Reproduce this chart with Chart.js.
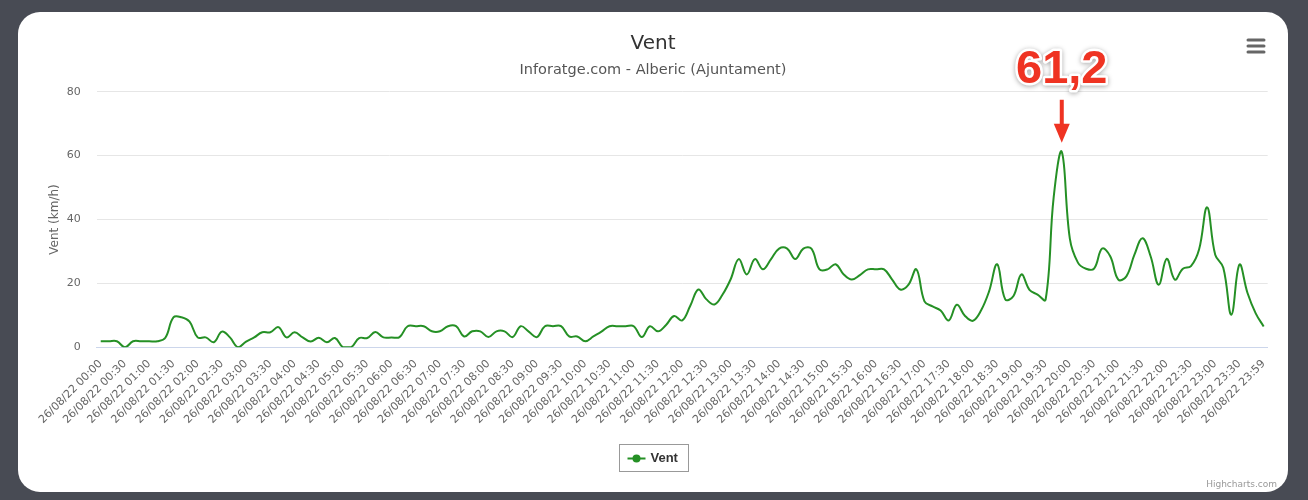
<!DOCTYPE html>
<html>
<head>
<meta charset="utf-8">
<title>Vent</title>
<script src="https://cdn.jsdelivr.net/npm/chart.js@4.4.1/dist/chart.umd.min.js"></script>
<style>
  html, body { margin: 0; padding: 0; }
  body { width: 1308px; height: 500px; background: #484b54; position: relative; overflow: hidden; }
  #card { position: absolute; left: 18px; top: 12px; width: 1270px; height: 480px; background: #fff; border-radius: 22px; overflow: hidden; }
</style>
</head>
<body>
<div id="card"><canvas id="vent-chart" width="1270" height="480"></canvas></div>
<script>
// 10-minute readings, Alberic (Ajuntament), 26/08/22
const datePrefix = '26/08/22 ';
const times = [
  '00:00','00:10','00:20','00:30','00:40','00:50',
  '01:00','01:10','01:20','01:30','01:40','01:50',
  '02:00','02:10','02:20','02:30','02:40','02:50',
  '03:00','03:10','03:20','03:30','03:40','03:50',
  '04:00','04:10','04:20','04:30','04:40','04:50',
  '05:00','05:10','05:20','05:30','05:40','05:50',
  '06:00','06:10','06:20','06:30','06:40','06:50',
  '07:00','07:10','07:20','07:30','07:40','07:50',
  '08:00','08:10','08:20','08:30','08:40','08:50',
  '09:00','09:10','09:20','09:30','09:40','09:50',
  '10:00','10:10','10:20','10:30','10:40','10:50',
  '11:00','11:10','11:20','11:30','11:40','11:50',
  '12:00','12:10','12:20','12:30','12:40','12:50',
  '13:00','13:10','13:20','13:30','13:40','13:50',
  '14:00','14:10','14:20','14:30','14:40','14:50',
  '15:00','15:10','15:20','15:30','15:40','15:50',
  '16:00','16:10','16:20','16:30','16:40','16:50',
  '17:00','17:10','17:20','17:30','17:40','17:50',
  '18:00','18:10','18:20','18:30','18:40','18:50',
  '19:00','19:10','19:20','19:30','19:40','19:50',
  '20:00','20:10','20:20','20:30','20:40','20:50',
  '21:00','21:10','21:20','21:30','21:40','21:50',
  '22:00','22:10','22:20','22:30','22:40','22:50',
  '23:00','23:10','23:20','23:30','23:40','23:50',
  '23:59'
];

// km/h
const windSpeed = [
  1.9, 1.9, 1.9, 0, 1.9, 1.9, 1.9, 1.9, 3, 9.4, 9.4, 8,
  3.1, 3.1, 1.6, 4.9, 3.1, 0, 1.8, 3.1, 4.7, 4.7, 6.3, 3.1,
  4.7, 3.1, 1.8, 3, 1.6, 2.9, 0, 0, 2.9, 2.9, 4.8, 3.1,
  3.1, 3.2, 6.6, 6.6, 6.6, 5, 5, 6.6, 6.6, 3.4, 5, 5,
  3.2, 5, 5, 3.2, 6.6, 4.9, 3.2, 6.6, 6.6, 6.6, 3.4, 3.4,
  1.9, 3.4, 4.9, 6.6, 6.6, 6.6, 6.6, 3.2, 6.6, 5, 7, 9.8,
  8.4, 13, 18.1, 15, 13.4, 16.5, 21.3, 27.6, 22.8, 27.6, 24.4, 27.6,
  30.9, 30.9, 27.6, 30.9, 30.9, 24.4, 24.4, 26, 22.8, 21.2, 22.6, 24.4,
  24.4, 24.4, 21.2, 18.1, 19.5, 24.4, 14.4, 12.8, 11.5, 8.4, 13.3, 9.9,
  8.3, 11.5, 17.5, 26, 15, 16, 22.8, 18, 16.5, 14.9, 47, 61.2,
  34, 26.5, 24.6, 24.6, 30.9, 28.5, 21.2, 22.2, 29, 34.1, 28.5, 19.6,
  27.7, 21.2, 24.6, 25.4, 30.6, 43.8, 29, 24.9, 10.2, 25.9, 17, 10.7,
  6.5
];

const yMax = 80;
const yStep = 20;
const labelEvery = 3;

const lineColor = '#259025';
const baseFont = '"DejaVu Sans", "Lucida Grande", Arial, sans-serif';

// red "61,2" callout with arrow over the peak
const peakCallout = {
  id: 'peakCallout',
  afterDatasetsDraw(chart) {
    const data = chart.data.datasets[0].data;
    const peak = Math.max(...data);
    const pt = chart.getDatasetMeta(0).data[data.indexOf(peak)];
    const ctx = chart.ctx;
    const x = pt.x, y = pt.y;
    ctx.save();
    ctx.fillStyle = '#ef3322';
    ctx.fillRect(x - 2, y - 52, 4, 26);
    ctx.beginPath();
    ctx.moveTo(x - 8, y - 28);
    ctx.lineTo(x + 8, y - 28);
    ctx.lineTo(x, y - 9);
    ctx.closePath();
    ctx.fill();

    const label = peak.toFixed(1).replace('.', ',');
    ctx.font = 'bold 47px "Liberation Sans", Arial, sans-serif';
    ctx.textAlign = 'center';
    ctx.textBaseline = 'alphabetic';
    ctx.lineJoin = 'round';
    ctx.shadowColor = 'rgba(0,0,0,0.35)';
    ctx.shadowBlur = 5;
    ctx.shadowOffsetY = 1;
    ctx.lineWidth = 5;
    ctx.strokeStyle = '#fff';
    ctx.strokeText(label, x, y - 69);
    ctx.shadowColor = 'transparent';
    ctx.fillText(label, x, y - 69);
    ctx.restore();
  }
};

// highcharts-like legend box, menu icon and credit
const extras = {
  id: 'extras',
  afterDraw(chart) {
    const ctx = chart.ctx;
    const cx = chart.width / 2;
    ctx.save();
    // legend
    const bx = Math.round(cx - 34.5) + 0.5, by = 432.5;
    ctx.strokeStyle = '#999';
    ctx.lineWidth = 1;
    ctx.strokeRect(bx, by, 69, 27);
    ctx.strokeStyle = lineColor;
    ctx.fillStyle = lineColor;
    ctx.lineWidth = 2;
    ctx.beginPath();
    ctx.moveTo(bx + 8, by + 14);
    ctx.lineTo(bx + 26, by + 14);
    ctx.stroke();
    ctx.beginPath();
    ctx.arc(bx + 17, by + 14, 4, 0, Math.PI * 2);
    ctx.fill();
    ctx.fillStyle = '#333';
    ctx.font = 'bold 13px "Liberation Sans", Arial, sans-serif';
    ctx.textAlign = 'left';
    ctx.textBaseline = 'middle';
    ctx.fillText(chart.data.datasets[0].label, bx + 31, by + 14);

    // menu icon
    ctx.strokeStyle = '#666';
    ctx.lineWidth = 3;
    ctx.lineCap = 'round';
    [28, 34, 40].forEach(function(my) {
      ctx.beginPath();
      ctx.moveTo(1230, my);
      ctx.lineTo(1246, my);
      ctx.stroke();
    });

    // credit
    ctx.fillStyle = '#999';
    ctx.font = '9px ' + baseFont;
    ctx.textAlign = 'right';
    ctx.textBaseline = 'middle';
    ctx.fillText('Highcharts.com', 1259, 473);
    ctx.restore();
  }
};

const ventCtx = document.getElementById('vent-chart');
new Chart(ventCtx, {
  type: 'line',
  data: {
    labels: times.map(function(t) { return datePrefix + t; }),
    datasets: [{
      label: 'Vent',
      data: windSpeed,
      borderColor: lineColor,
      backgroundColor: lineColor,
      borderWidth: 2,
      pointRadius: 0,
      tension: 0.4,
      fill: false
    }]
  },
  options: {
    responsive: false,
    animation: false,
    devicePixelRatio: 1,
    layout: { padding: 0 },
    plugins: {
      legend: { display: false },
      tooltip: { enabled: false },
      title: {
        display: true,
        text: 'Vent',
        color: '#333',
        font: { family: baseFont, size: 20, weight: 'normal' },
        padding: { top: 20, bottom: 6 }
      },
      subtitle: {
        display: true,
        text: 'Inforatge.com - Alberic (Ajuntament)',
        color: '#555',
        font: { family: baseFont, size: 14.5, weight: 'normal' },
        padding: { top: 0, bottom: 12.3 }
      }
    },
    scales: {
      x: {
        type: 'category',
        offset: true,
        grid: { display: false },
        border: { display: true, color: '#ccd6eb', width: 1 },
        ticks: {
          autoSkip: false,
          minRotation: 45,
          maxRotation: 45,
          padding: 2,
          color: '#666',
          font: { family: baseFont, size: 11 },
          callback: function(value, index) {
            return index % labelEvery === 0 ? this.getLabelForValue(value) : null;
          }
        },
        afterFit: function(scale) {
          scale.height = 144.7;
          scale.paddingRight = 20.3;
        }
      },
      y: {
        min: 0,
        max: yMax,
        grid: { color: '#e6e6e6', drawTicks: false },
        border: { display: false },
        ticks: {
          stepSize: yStep,
          padding: 16,
          color: '#666',
          font: { family: baseFont, size: 11 }
        },
        title: {
          display: true,
          text: 'Vent (km/h)',
          color: '#666',
          font: { family: baseFont, size: 12 },
          padding: { top: 30, bottom: 0 }
        },
        afterFit: function(scale) { scale.width = 78.7; }
      }
    }
  },
  plugins: [peakCallout, extras]
});
</script>
</body>
</html>
